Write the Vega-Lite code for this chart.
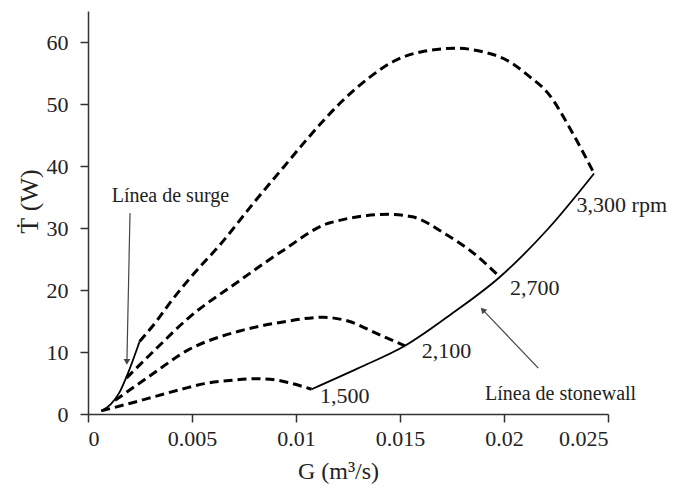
{
  "$schema": "https://vega.github.io/schema/vega-lite/v6.json",
  "width": 520,
  "height": 403,
  "autosize": "none",
  "padding": {"left": 88, "top": 11, "right": 68, "bottom": 76},
  "background": "white",
  "config": {
    "view": {"stroke": null},
    "font": "Liberation Serif",
    "axis": {
      "grid": false,
      "domainColor": "#333333",
      "domainWidth": 1.5,
      "tickColor": "#333333",
      "tickWidth": 1.5,
      "tickSize": 8,
      "labelFont": "Liberation Serif",
      "labelFontSize": 22,
      "labelColor": "#222222",
      "titleFont": "Liberation Serif",
      "titleFontSize": 24,
      "titleFontWeight": "normal",
      "titleColor": "#222222"
    }
  },
  "datasets": {
    "curves": [
      {"series": "1500", "G": 0.00064, "T": 0.5},
      {"series": "1500", "G": 0.0020, "T": 1.7},
      {"series": "1500", "G": 0.0032, "T": 2.8},
      {"series": "1500", "G": 0.0045, "T": 4.0},
      {"series": "1500", "G": 0.0056, "T": 4.9},
      {"series": "1500", "G": 0.0068, "T": 5.4},
      {"series": "1500", "G": 0.0080, "T": 5.7},
      {"series": "1500", "G": 0.0090, "T": 5.5},
      {"series": "1500", "G": 0.0097, "T": 5.0},
      {"series": "1500", "G": 0.01075, "T": 4.0},
      {"series": "2100", "G": 0.0013, "T": 2.2},
      {"series": "2100", "G": 0.0030, "T": 6.2},
      {"series": "2100", "G": 0.0048, "T": 10.3},
      {"series": "2100", "G": 0.0072, "T": 13.3},
      {"series": "2100", "G": 0.0093, "T": 14.8},
      {"series": "2100", "G": 0.0113, "T": 15.6},
      {"series": "2100", "G": 0.0125, "T": 15.0},
      {"series": "2100", "G": 0.0140, "T": 12.8},
      {"series": "2100", "G": 0.01524, "T": 11.0},
      {"series": "2700", "G": 0.00185, "T": 5.8},
      {"series": "2700", "G": 0.0033, "T": 10.6},
      {"series": "2700", "G": 0.0048, "T": 15.4},
      {"series": "2700", "G": 0.0072, "T": 21.3},
      {"series": "2700", "G": 0.0093, "T": 26.2},
      {"series": "2700", "G": 0.0116, "T": 30.8},
      {"series": "2700", "G": 0.0145, "T": 32.2},
      {"series": "2700", "G": 0.0156, "T": 31.8},
      {"series": "2700", "G": 0.0172, "T": 29.0},
      {"series": "2700", "G": 0.0184, "T": 26.3},
      {"series": "2700", "G": 0.0198, "T": 22.1},
      {"series": "3300", "G": 0.00248, "T": 11.7},
      {"series": "3300", "G": 0.0033, "T": 15.0},
      {"series": "3300", "G": 0.0040, "T": 18.2},
      {"series": "3300", "G": 0.0050, "T": 22.3},
      {"series": "3300", "G": 0.0064, "T": 27.5},
      {"series": "3300", "G": 0.0080, "T": 34.2},
      {"series": "3300", "G": 0.0094, "T": 39.8},
      {"series": "3300", "G": 0.0106, "T": 44.6},
      {"series": "3300", "G": 0.0122, "T": 50.4},
      {"series": "3300", "G": 0.0135, "T": 54.2},
      {"series": "3300", "G": 0.0147, "T": 56.9},
      {"series": "3300", "G": 0.0160, "T": 58.4},
      {"series": "3300", "G": 0.0177, "T": 59.0},
      {"series": "3300", "G": 0.0190, "T": 58.4},
      {"series": "3300", "G": 0.0200, "T": 57.3},
      {"series": "3300", "G": 0.0212, "T": 54.5},
      {"series": "3300", "G": 0.0221, "T": 51.8},
      {"series": "3300", "G": 0.0233, "T": 45.3},
      {"series": "3300", "G": 0.02433, "T": 38.8}
    ],
    "limits": [
      {"series": "surge", "G": 0.00064, "T": 0.5},
      {"series": "surge", "G": 0.0011, "T": 1.6},
      {"series": "surge", "G": 0.0015, "T": 3.4},
      {"series": "surge", "G": 0.0019, "T": 6.4},
      {"series": "surge", "G": 0.00248, "T": 11.7},
      {"series": "stonewall", "G": 0.01075, "T": 4.0},
      {"series": "stonewall", "G": 0.0130, "T": 7.4},
      {"series": "stonewall", "G": 0.01524, "T": 11.0},
      {"series": "stonewall", "G": 0.0175, "T": 16.2},
      {"series": "stonewall", "G": 0.0198, "T": 22.1},
      {"series": "stonewall", "G": 0.0221, "T": 29.8},
      {"series": "stonewall", "G": 0.02433, "T": 38.8}
    ]
  },
  "layer": [
    {
      "data": {"name": "curves"},
      "mark": {"type": "line", "interpolate": "monotone", "color": "black", "strokeWidth": 3, "strokeDash": [9, 5]},
      "encoding": {
        "x": {"field": "G", "type": "quantitative", "scale": {"domain": [0, 0.025], "nice": false},
          "axis": {"values": [0, 0.005, 0.01, 0.015, 0.02, 0.025], "format": "~g", "title": "G (m³/s)",
            "labelFont": "Liberation Serif", "titleFont": "Liberation Serif", "labelPadding": 6, "titlePadding": 10, "titleX": 250}},
        "y": {"field": "T", "type": "quantitative", "scale": {"domain": [0, 65], "nice": false},
          "axis": {"values": [0, 10, 20, 30, 40, 50, 60], "title": "Ṫ (W)",
            "labelFont": "Liberation Serif", "titleFont": "Liberation Serif", "titleFontSize": 26, "labelPadding": 12, "titlePadding": 4, "titleY": 190}},
        "detail": {"field": "series"}
      }
    },
    {
      "data": {"name": "limits"},
      "mark": {"type": "line", "interpolate": "monotone", "color": "black", "strokeWidth": 1.8},
      "encoding": {
        "x": {"field": "G", "type": "quantitative"},
        "y": {"field": "T", "type": "quantitative"},
        "detail": {"field": "series"}
      }
    },
    {
      "data": {"values": [
        {"g1": 0.00202, "t1": 32.4, "g2": 0.00187, "t2": 8.4},
        {"g1": 0.02165, "t1": 7.4, "g2": 0.01898, "t2": 16.8}
      ]},
      "mark": {"type": "rule", "color": "#444444", "strokeWidth": 1.2},
      "encoding": {
        "x": {"field": "g1", "type": "quantitative"},
        "y": {"field": "t1", "type": "quantitative"},
        "x2": {"field": "g2"},
        "y2": {"field": "t2"}
      }
    },
    {
      "data": {"values": [{"G": 0.00187, "T": 8.4}]},
      "mark": {"type": "point", "shape": "triangle-up", "filled": true, "color": "#444444", "size": 45, "angle": 181, "opacity": 1},
      "encoding": {
        "x": {"field": "G", "type": "quantitative"},
        "y": {"field": "T", "type": "quantitative"}
      }
    },
    {
      "data": {"values": [{"G": 0.01898, "T": 16.8}]},
      "mark": {"type": "point", "shape": "triangle-up", "filled": true, "color": "#444444", "size": 45, "angle": 317, "opacity": 1},
      "encoding": {
        "x": {"field": "G", "type": "quantitative"},
        "y": {"field": "T", "type": "quantitative"}
      }
    },
    {
      "data": {"values": [
        {"G": 0.01115, "T": 1.77, "label": "1,500"},
        {"G": 0.01604, "T": 8.98, "label": "2,100"},
        {"G": 0.02029, "T": 19.2, "label": "2,700"},
        {"G": 0.02349, "T": 32.6, "label": "3,300 rpm"}
      ]},
      "mark": {"type": "text", "align": "left", "baseline": "alphabetic", "font": "Liberation Serif", "fontSize": 22, "color": "#222222"},
      "encoding": {
        "x": {"field": "G", "type": "quantitative"},
        "y": {"field": "T", "type": "quantitative"},
        "text": {"field": "label"}
      }
    },
    {
      "data": {"values": [
        {"G": 0.00114, "T": 34.2, "label": "Línea de surge"},
        {"G": 0.01909, "T": 2.26, "label": "Línea de stonewall"}
      ]},
      "mark": {"type": "text", "align": "left", "baseline": "alphabetic", "font": "Liberation Serif", "fontSize": 20, "color": "#222222"},
      "encoding": {
        "x": {"field": "G", "type": "quantitative"},
        "y": {"field": "T", "type": "quantitative"},
        "text": {"field": "label"}
      }
    }
  ]
}
